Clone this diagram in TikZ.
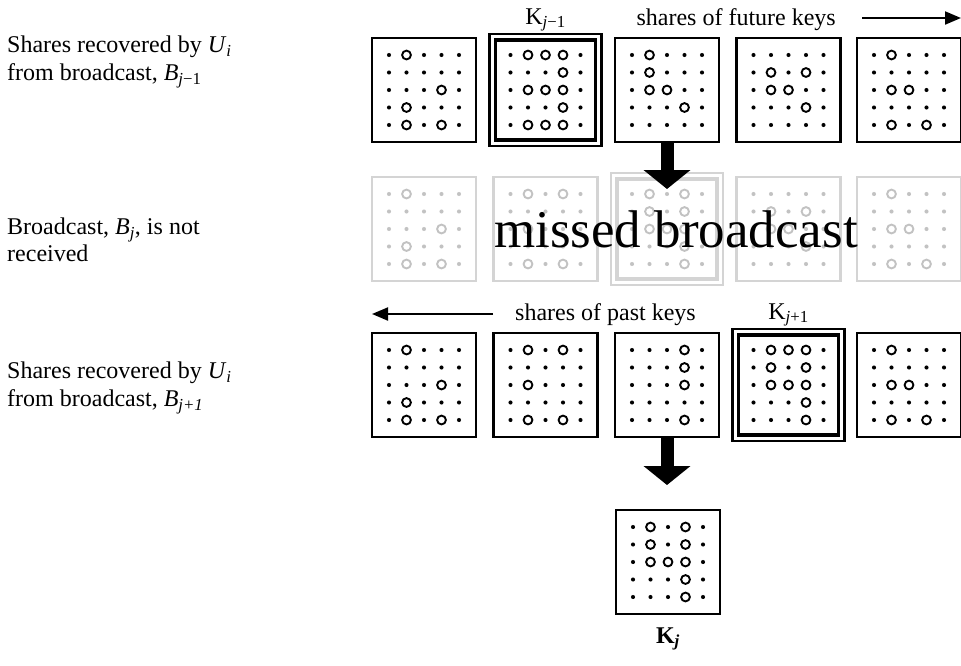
\documentclass[tikz,border=0pt]{standalone}
\usepackage{fontspec}
\setmainfont{Liberation Serif}
\usetikzlibrary{arrows.meta,calc}
\definecolor{gbox}{gray}{0.83}
\definecolor{gdot}{gray}{0.76}
\tikzset{
  sq/.style={draw=#1, line width=2.8pt, minimum width=104pt, minimum height=104pt, inner sep=0pt},
  sq/.default=black,
  dblin/.style={draw=#1, line width=3.6pt, minimum width=100pt, minimum height=100pt, inner sep=0pt},
  dblin/.default=black,
  dblout/.style={draw=#1, line width=2.4pt, minimum width=112pt, minimum height=112pt, inner sep=0pt},
  dblout/.default=black,
  lbl/.style={font=\fontsize{24}{27.5}\selectfont, align=left, inner sep=0pt},
  keylbl/.style={font=\fontsize{24}{27.5}\selectfont, inner sep=0pt},
  bigarrow/.style={line width=13pt, -{Triangle[width=46pt,length=19pt]}},
  thinarrow/.style={line width=2pt, -{Triangle[width=13pt,length=16pt]}},
}
\newcommand\sharegrid[3]{%
  \foreach \cc in {1,...,5}{\foreach \rr in {1,...,5}{
    \fill[#2] ($(#1)+({(\cc-3)*17.5},{(\rr-3)*17.5})$) circle[radius=2.05pt];}}
  \foreach \cc/\rr in {#3}{
    \draw[#2, line width=1.9pt, fill=white] ($(#1)+({(\cc-3)*17.5},{(\rr-3)*17.5})$) circle[radius=4.4pt];}%
}
\begin{document}
\begin{tikzpicture}[x=1pt,y=-1pt]
\useasboundingbox (0,0) rectangle (961,665);
% ---- left labels
\node[lbl, anchor=west] (l1) at (7,62) {Shares recovered by \textit{U}\textsubscript{\textit{i}}\\from broadcast, \textit{B}\textsubscript{\textit{j}−1}};
\node[lbl, anchor=west] (l2) at (7,240) {Broadcast, \textit{B}\textsubscript{\textit{j}}, is not\\received};
\node[lbl, anchor=west] (l3) at (7,388) {Shares recovered by \textit{U}\textsubscript{\textit{i}}\\from broadcast, \textit{B}\textsubscript{\textit{j+1}}};
% ---- grey row (missed broadcast)
\node[sq=gbox] (g1) at (424,229) {};
\node[sq=gbox] (g2) at (545.5,229) {};
\node[dblout=gbox] (g3o) at (667,229) {};
\node[dblin=gbox] (g3) at (667,229) {};
\node[sq=gbox] (g4) at (788.5,229) {};
\node[sq=gbox] (g5) at (909,229) {};
\sharegrid{g1}{gdot}{2/1,4/3,2/4,2/5,4/5}
\sharegrid{g2}{gdot}{2/1,4/1,2/3,2/5,4/5}
\sharegrid{g3}{gdot}{2/1,4/1,2/2,4/2,2/3,3/3,4/3,4/4,4/5}
\sharegrid{g4}{gdot}{2/2,4/2,2/3,3/3,4/4}
\sharegrid{g5}{gdot}{2/1,2/3,3/3,2/5,4/5}
% ---- top row
\node[sq] (t1) at (424,90) {};
\node[dblout] (t2o) at (545.5,90) {};
\node[dblin] (t2) at (545.5,90) {};
\node[sq] (t3) at (667,90) {};
\node[sq] (t4) at (788.5,90) {};
\node[sq] (t5) at (909,90) {};
\sharegrid{t1}{black}{2/1,4/3,2/4,2/5,4/5}
\sharegrid{t2}{black}{2/1,3/1,4/1,4/2,2/3,3/3,4/3,4/4,2/5,3/5,4/5}
\sharegrid{t3}{black}{2/1,2/2,2/3,3/3,4/4}
\sharegrid{t4}{black}{2/2,4/2,2/3,3/3,4/4}
\sharegrid{t5}{black}{2/1,2/3,3/3,2/5,4/5}
\node[keylbl, anchor=base] (kjm) at (545.5,24) {K\textsubscript{\textit{j}−1}};
\node[keylbl, anchor=base east] (fut) at (836,25) {shares of future keys};
\coordinate (fa1) at (862,18);
\coordinate (fa2) at (961,18);
\draw[thinarrow] (fa1) -- (fa2);
% ---- bottom row
\node[sq] (b1) at (424,385) {};
\node[sq] (b2) at (545.5,385) {};
\node[sq] (b3) at (667,385) {};
\node[dblout] (b4o) at (788.5,385) {};
\node[dblin] (b4) at (788.5,385) {};
\node[sq] (b5) at (909,385) {};
\sharegrid{b1}{black}{2/1,4/3,2/4,2/5,4/5}
\sharegrid{b2}{black}{2/1,4/1,2/3,2/5,4/5}
\sharegrid{b3}{black}{4/1,4/2,4/3,4/5}
\sharegrid{b4}{black}{2/1,3/1,4/1,2/2,4/2,2/3,3/3,4/3,4/4,4/5}
\sharegrid{b5}{black}{2/1,2/3,3/3,2/5,4/5}
\node[keylbl, anchor=base] (kjp) at (788.5,319) {K\textsubscript{\textit{j}+1}};
\node[keylbl, anchor=base west] (past) at (515,320) {shares of past keys};
\coordinate (pa1) at (493,314);
\coordinate (pa2) at (372,314);
\draw[thinarrow] (pa1) -- (pa2);
% ---- result
\node[sq] (kj) at (668,562) {};
\sharegrid{kj}{black}{2/1,4/1,2/2,4/2,2/3,3/3,4/3,4/4,4/5}
\node[keylbl, anchor=base] (kjl) at (668,643) {\textbf{K}\textsubscript{\textbf{\textit{j}}}};
% ---- arrows
\coordinate (a1) at (667,189);
\draw[bigarrow] (t3.south) -- (a1);
\coordinate (a2) at (667,485);
\draw[bigarrow] (b3.south) -- (a2);
% ---- missed broadcast
\node[inner sep=0pt, anchor=base, font=\fontsize{53}{60}\selectfont] (mb) at (676,247) {missed broadcast};
\end{tikzpicture}
\end{document}
